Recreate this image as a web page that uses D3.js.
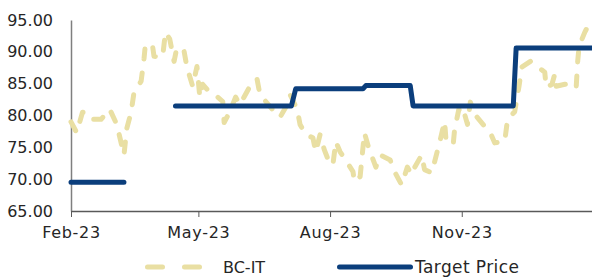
<!DOCTYPE html>
<html>
<head>
<meta charset="utf-8">
<script src="https://cdn.jsdelivr.net/npm/d3@7"></script>
<style>
  body { margin: 0; background: #fff; }
  text { font-family: "DejaVu Sans", sans-serif; fill: #262626; }
</style>
</head>
<body>
<div id="chart"></div>
<script>
// BC-IT share price
const bcDates = [
  "2023-02-01","2023-02-05","2023-02-09","2023-02-12","2023-02-16","2023-02-22","2023-02-28",
  "2023-03-05","2023-03-10","2023-03-12","2023-03-15","2023-03-17","2023-03-22","2023-03-24",
  "2023-03-25","2023-03-30","2023-03-31","2023-04-06","2023-04-08","2023-04-11","2023-04-14",
  "2023-04-16","2023-04-21","2023-04-23","2023-04-27","2023-04-30","2023-05-02","2023-05-04",
  "2023-05-09","2023-05-14","2023-05-18","2023-05-19","2023-05-23","2023-05-27","2023-05-30",
  "2023-06-08","2023-06-11","2023-06-13","2023-06-23","2023-06-27","2023-07-02","2023-07-04",
  "2023-07-09","2023-07-11","2023-07-15","2023-07-20","2023-07-22","2023-07-25","2023-07-28",
  "2023-08-01","2023-08-03","2023-08-05","2023-08-08","2023-08-13","2023-08-17","2023-08-18",
  "2023-08-22","2023-08-25","2023-08-28","2023-09-02","2023-09-05","2023-09-12","2023-09-15",
  "2023-09-20","2023-09-24","2023-09-27","2023-09-29","2023-10-04","2023-10-06","2023-10-11",
  "2023-10-13","2023-10-17","2023-10-20","2023-10-21","2023-10-26","2023-10-27","2023-10-30",
  "2023-11-01","2023-11-03","2023-11-05","2023-11-07","2023-11-10","2023-11-17","2023-11-21",
  "2023-11-24","2023-12-01","2023-12-03","2023-12-08","2023-12-11","2023-12-13","2023-12-19",
  "2023-12-29","2023-12-30","2024-01-03","2024-01-05","2024-01-06","2024-01-12","2024-01-19",
  "2024-01-20","2024-01-21","2024-01-22","2024-01-26","2024-01-29","2024-01-31"
];
const bcValues = [
  79.0, 77.3, 80.5, 80.5, 79.4, 79.4, 81.0,
  78.6, 73.8, 78.0, 80.5, 83.6, 85.4, 88.9,
  91.2, 90.9, 89.3, 89.2, 93.1, 92.0, 88.5,
  90.7, 90.1, 87.6, 84.6, 87.7, 82.9, 84.9,
  83.6, 83.0, 82.2, 78.9, 80.6, 82.9, 81.7,
  85.4, 85.7, 83.3, 80.6, 79.7, 81.7, 83.3,
  81.0, 78.6, 77.0, 76.5, 74.3, 77.0, 74.6,
  72.3, 72.3, 75.9, 74.3, 72.6, 71.2, 69.6,
  70.4, 77.3, 74.9, 71.9, 73.8, 73.0, 71.2,
  69.1, 71.9, 70.7, 71.8, 73.8, 71.5, 71.0,
  72.7, 76.2, 79.1, 76.2, 75.4, 77.8, 81.0,
  79.7, 80.2, 78.6, 82.1, 80.2, 78.3, 77.3,
  75.7, 75.9, 79.4, 80.6, 84.6, 87.6, 88.5,
  86.8, 84.4, 84.9, 86.5, 84.6, 84.9, 85.2,
  84.6, 88.5, 90.9, 93.1, 94.4, 94.0
];

// Target price (null = no target published)
const tpDates = [
  "2023-02-01","2023-03-10","2023-03-11","2023-04-15","2023-07-05","2023-07-08",
  "2023-08-24","2023-08-26","2023-09-26","2023-09-28","2023-12-07","2023-12-09","2024-01-31"
];
const tpValues = [69.5, 69.5, null, 81.5, 81.5, 84.2, 84.2, 84.7, 84.7, 81.5, 81.5, 90.6, 90.6];

const yTicks = [65, 70, 75, 80, 85, 90, 95];
const xTicks = ["2023-02-01", "2023-05-01", "2023-08-01", "2023-11-01"];
const seriesNames = ["BC-IT", "Target Price"];

const parse = d3.timeParse("%Y-%m-%d");
const bc = bcDates.map((d, i) => ({date: parse(d), value: bcValues[i]}));
const tp = tpDates.map((d, i) => ({date: parse(d), value: tpValues[i]}));

const W = 592, H = 277;
const margin = {top: 20, right: 0, bottom: 66, left: 71};

const svg = d3.select("#chart").append("svg")
  .attr("width", W)
  .attr("height", H);

const x = d3.scaleTime()
  .domain([parse("2023-02-01"), parse("2024-01-31")])
  .range([margin.left, W - margin.right]);

const y = d3.scaleLinear()
  .domain([65, 95])
  .range([H - margin.bottom, margin.top]);

// y axis
const yAxis = svg.append("g")
  .attr("transform", `translate(${margin.left},0)`)
  .call(d3.axisLeft(y).tickValues(yTicks).tickSize(0).tickPadding(18).tickFormat(d3.format(".2f")));
yAxis.select(".domain").attr("stroke", "#7f7f7f").attr("stroke-width", 1.5);
yAxis.selectAll("text").style("font-size", "16px").attr("fill", "#262626");

// x axis
const xAxis = svg.append("g")
  .attr("transform", `translate(0,${H - margin.bottom})`)
  .call(d3.axisBottom(x).tickValues(xTicks.map(parse)).tickSize(6).tickSizeOuter(0)
    .tickPadding(10).tickFormat(d3.timeFormat("%b-%y")));
xAxis.select(".domain").attr("stroke", "#595959").attr("stroke-width", 1.5);
xAxis.selectAll(".tick line").attr("stroke", "#595959");
xAxis.selectAll("text")
  .style("font-size", "16px")
  .style("letter-spacing", "0.7px")
  .attr("fill", "#262626");

const bcColor = "#e9dfa3";
const tpColor = "#0b3e7c";

// BC-IT dashed line
const bcLine = d3.line()
  .x(d => x(d.date))
  .y(d => y(d.value));

svg.append("path")
  .datum(bc)
  .attr("fill", "none")
  .attr("stroke", bcColor)
  .attr("stroke-width", 5)
  .attr("stroke-linecap", "round")
  .attr("stroke-linejoin", "round")
  .attr("stroke-dasharray", "10,14")
  .attr("d", bcLine);

// Target price line
const tpLine = d3.line()
  .defined(d => d.value != null)
  .x(d => x(d.date))
  .y(d => y(d.value));

svg.append("path")
  .datum(tp)
  .attr("fill", "none")
  .attr("stroke", tpColor)
  .attr("stroke-width", 5)
  .attr("stroke-linecap", "round")
  .attr("stroke-linejoin", "round")
  .attr("d", tpLine);

// legend
const ly = 267;
const legend = svg.append("g");

legend.append("line")
  .attr("x1", 147.5).attr("x2", 199.5)
  .attr("y1", ly).attr("y2", ly)
  .attr("stroke", bcColor)
  .attr("stroke-width", 5)
  .attr("stroke-linecap", "round")
  .attr("stroke-dasharray", "15,22");
legend.append("text")
  .attr("x", 223).attr("y", ly)
  .attr("dy", "0.36em")
  .style("font-size", "16px")
  .text(seriesNames[0]);

legend.append("line")
  .attr("x1", 339.5).attr("x2", 410.5)
  .attr("y1", ly).attr("y2", ly)
  .attr("stroke", tpColor)
  .attr("stroke-width", 5)
  .attr("stroke-linecap", "round");
legend.append("text")
  .attr("x", 415).attr("y", ly)
  .attr("dy", "0.36em")
  .style("font-size", "17px")
  .style("letter-spacing", "0.4px")
  .text(seriesNames[1]);
</script>
</body>
</html>
